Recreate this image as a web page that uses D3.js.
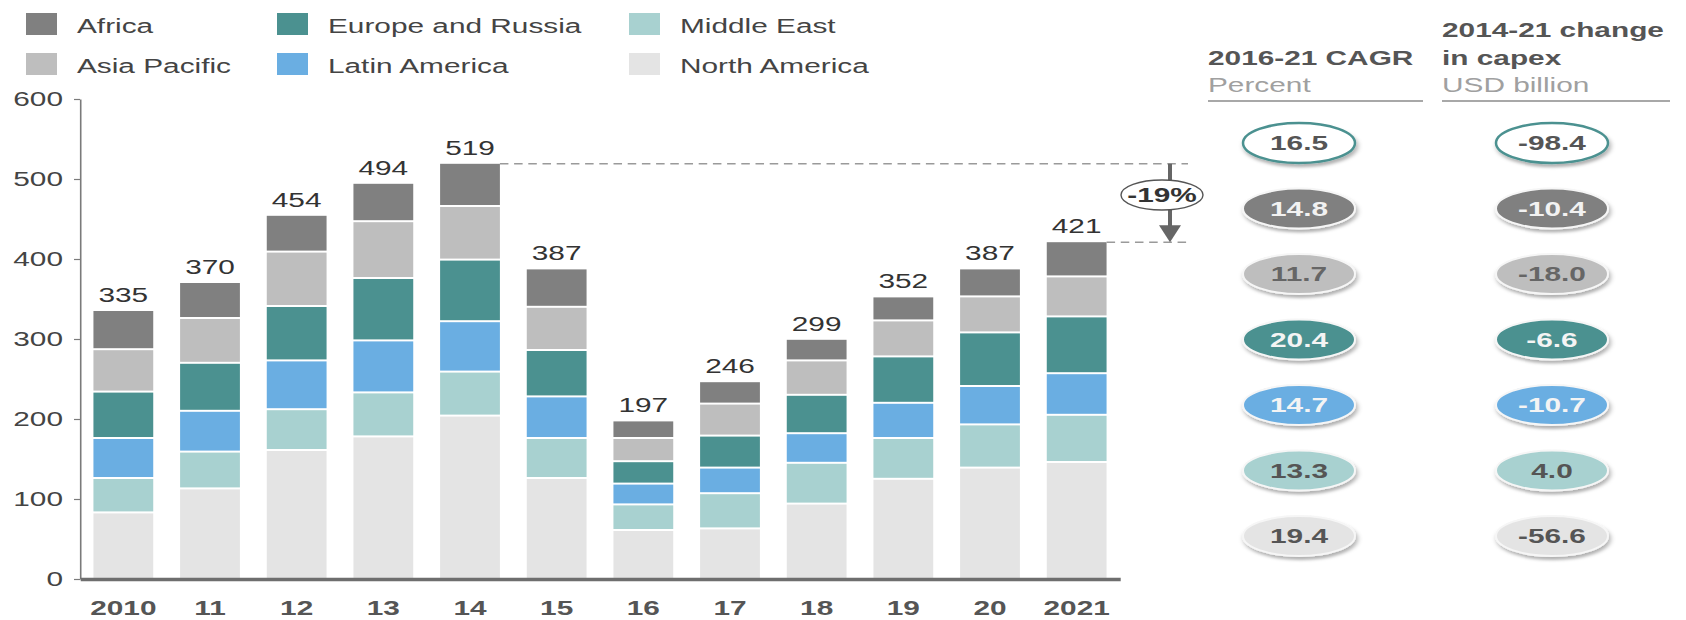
<!DOCTYPE html>
<html>
<head>
<meta charset="utf-8">
<script src="https://cdn.jsdelivr.net/npm/d3@7"></script>
<style>
  html, body { margin: 0; padding: 0; background: #fff; }
  svg { display: block; }
  text { font-family: "Liberation Sans", Arial, sans-serif; }
</style>
</head>
<body>
<svg id="chart"></svg>
<script>
// Capex by region, USD billion
const years = ["2010", "11", "12", "13", "14", "15", "16", "17", "18", "19", "20", "2021"];
const northAmerica = [82, 112, 160, 177, 203, 125, 60, 62, 93, 124, 138, 145];
const middleEast   = [43, 46, 51, 55, 55, 50, 32, 44, 51, 51, 54, 59];
const latinAmerica = [50, 51, 61, 65, 63, 52, 26, 32, 37, 44, 48, 52];
const europeRussia = [58, 60, 68, 78, 77, 58, 28, 40, 48, 58, 67, 71];
const asiaPacific  = [53, 56, 68, 71, 67, 54, 29, 40, 43, 45, 45, 50];
const africa       = [49, 45, 46, 48, 54, 48, 22, 28, 27, 30, 35, 44];
const totals       = [335, 370, 454, 494, 519, 387, 197, 246, 299, 352, 387, 421];

const yTicks = [0, 100, 200, 300, 400, 500, 600];

// Side table: rows are Total, then each region in legend order
const tableRows   = ["Total", "Africa", "Asia Pacific", "Europe and Russia", "Latin America", "Middle East", "North America"];
const cagr1621    = [16.5, 14.8, 11.7, 20.4, 14.7, 13.3, 19.4];
const change1421  = [-98.4, -10.4, -18.0, -6.6, -10.7, 4.0, -56.6];

const legendOrder = ["Africa", "Asia Pacific", "Europe and Russia", "Latin America", "Middle East", "North America"];
const stackOrder  = ["North America", "Middle East", "Latin America", "Europe and Russia", "Asia Pacific", "Africa"];

const colors = {
  "Africa": "#808080",
  "Asia Pacific": "#bebebe",
  "Europe and Russia": "#4b9190",
  "Latin America": "#6aaee2",
  "Middle East": "#a8d1d0",
  "North America": "#e4e4e4"
};
const pillText = {
  "Total": "#555", "Africa": "#f2f2f2", "Asia Pacific": "#666",
  "Europe and Russia": "#f4f4f4", "Latin America": "#f4f4f4",
  "Middle East": "#555", "North America": "#555"
};

const seriesByName = {
  "North America": northAmerica, "Middle East": middleEast, "Latin America": latinAmerica,
  "Europe and Russia": europeRussia, "Asia Pacific": asiaPacific, "Africa": africa
};

// The drawing is laid out in a narrower space and stretched horizontally to the page width
const S = 1.42;
const PW = 1686, PH = 620;
const px = v => v / S;

const svg = d3.select("#chart")
  .attr("width", PW).attr("height", PH)
  .attr("viewBox", `0 0 ${PW / S} ${PH}`)
  .attr("preserveAspectRatio", "none");

const defs = svg.append("defs");
defs.append("filter").attr("id", "pillShadow")
  .attr("x", "-30%").attr("y", "-40%").attr("width", "170%").attr("height", "190%")
  .append("feDropShadow")
  .attr("dx", 1.2).attr("dy", 3).attr("stdDeviation", 1.8)
  .attr("flood-color", "#000").attr("flood-opacity", 0.3);

// Scales
const x = d3.scaleBand().domain(years).range([px(80), px(1120)]).paddingInner(0.31).paddingOuter(0.155);
const y = d3.scaleLinear().domain([0, 600]).range([579, 99]);

// Stacked data
const table = years.map((yr, i) => {
  const row = { year: yr };
  stackOrder.forEach(k => { row[k] = seriesByName[k][i]; });
  return row;
});
const stacked = d3.stack().keys(stackOrder)(table);

const bars = svg.append("g");
stacked.forEach((layer, li) => {
  bars.append("g").attr("fill", colors[layer.key])
    .selectAll("rect").data(layer).join("rect")
    .attr("x", d => x(d.data.year))
    .attr("width", x.bandwidth())
    .attr("y", d => y(d[1]))
    .attr("height", d => Math.max(0, y(d[0]) - y(d[1]) - (li > 0 ? 2 : 0)));
});

// Totals above bars
svg.append("g").selectAll("text").data(years).join("text")
  .attr("x", (d) => x(d) + x.bandwidth() / 2)
  .attr("y", (d, i) => y(totals[i]) - 9)
  .attr("text-anchor", "middle")
  .attr("font-size", 21)
  .attr("fill", "#333")
  .text((d, i) => totals[i]);

// Y axis
const yAxis = svg.append("g").attr("transform", `translate(${px(80)},0)`)
  .call(d3.axisLeft(y).tickValues(yTicks).tickSize(px(6)).tickSizeOuter(0).tickPadding(px(11)));
yAxis.select(".domain").attr("stroke", "#7a7a7a").attr("stroke-width", 1.6).attr("vector-effect", "non-scaling-stroke");
yAxis.selectAll(".tick line").attr("stroke", "#7a7a7a").attr("stroke-width", 1.2).attr("vector-effect", "non-scaling-stroke");
yAxis.selectAll(".tick text").attr("font-size", 21).attr("fill", "#444")
  .attr("font-family", "'Liberation Sans', Arial, sans-serif");

// X axis
const xAxis = svg.append("g").attr("transform", `translate(0,${y(0)})`)
  .call(d3.axisBottom(x).tickSize(0).tickSizeOuter(0).tickPadding(21));
xAxis.select(".domain").attr("stroke", "#6e6e6e").attr("stroke-width", 3.5).attr("vector-effect", "non-scaling-stroke");
xAxis.selectAll(".tick text").attr("font-size", 21).attr("font-weight", "bold").attr("fill", "#555")
  .attr("font-family", "'Liberation Sans', Arial, sans-serif");

// Legend: three columns of two
const legendCols = [26, 277, 629];
const legendRows = [13, 53];
const legend = svg.append("g");
legendOrder.forEach((name, i) => {
  const cx = px(legendCols[Math.floor(i / 2)]);
  const cy = legendRows[i % 2];
  legend.append("rect").attr("x", cx).attr("y", cy).attr("width", px(31)).attr("height", 22).attr("fill", colors[name]);
  legend.append("text").attr("x", cx + px(51)).attr("y", cy + 20)
    .attr("font-size", 21).attr("fill", "#444").text(name);
});

// Change from 2014 peak to 2021
const iPeak = years.indexOf("14"), iLast = years.length - 1;
const pct = Math.round((totals[iLast] - totals[iPeak]) / totals[iPeak] * 100);
const guideEnd = px(1188);
const ann = svg.append("g");
ann.append("line")
  .attr("x1", x(years[iPeak]) + x.bandwidth()).attr("x2", guideEnd)
  .attr("y1", y(totals[iPeak])).attr("y2", y(totals[iPeak]))
  .attr("stroke", "#9a9a9a").attr("stroke-width", 1.5).attr("stroke-dasharray", "6 4");
ann.append("line")
  .attr("x1", x(years[iLast]) + x.bandwidth()).attr("x2", guideEnd)
  .attr("y1", y(totals[iLast])).attr("y2", y(totals[iLast]))
  .attr("stroke", "#9a9a9a").attr("stroke-width", 1.5).attr("stroke-dasharray", "6 4");
const ax = px(1170);
ann.append("line").attr("x1", ax).attr("x2", ax)
  .attr("y1", y(totals[iPeak])).attr("y2", y(totals[iLast]) - 15)
  .attr("stroke", "#666").attr("stroke-width", px(4));
ann.append("path")
  .attr("d", `M${ax - px(11)},${y(totals[iLast]) - 17} L${ax + px(11)},${y(totals[iLast]) - 17} L${ax},${y(totals[iLast])} Z`)
  .attr("fill", "#666");
ann.append("ellipse").attr("cx", px(1162)).attr("cy", 195).attr("rx", px(41)).attr("ry", 15)
  .attr("fill", "#fff").attr("stroke", "#555").attr("stroke-width", 1.4).attr("vector-effect", "non-scaling-stroke");
ann.append("text").attr("x", px(1162)).attr("y", 202).attr("text-anchor", "middle")
  .attr("font-size", 21).attr("font-weight", "bold").attr("fill", "#333")
  .text(`${pct}%`);

// Side table headers
const side = svg.append("g");
const colX = [px(1208), px(1442)];
const colEnd = [px(1423), px(1670)];
side.append("text").attr("x", colX[0]).attr("y", 65).attr("font-size", 21).attr("font-weight", "bold").attr("fill", "#555").text("2016-21 CAGR");
side.append("text").attr("x", colX[0]).attr("y", 92).attr("font-size", 21).attr("fill", "#a0a0a0").text("Percent");
side.append("text").attr("x", colX[1]).attr("y", 37).attr("font-size", 21).attr("font-weight", "bold").attr("fill", "#555").text("2014-21 change");
side.append("text").attr("x", colX[1]).attr("y", 65).attr("font-size", 21).attr("font-weight", "bold").attr("fill", "#555").text("in capex");
side.append("text").attr("x", colX[1]).attr("y", 92).attr("font-size", 21).attr("fill", "#a0a0a0").text("USD billion");
[0, 1].forEach(c => {
  side.append("line").attr("x1", colX[c]).attr("x2", colEnd[c]).attr("y1", 101).attr("y2", 101)
    .attr("stroke", "#a8a8a8").attr("stroke-width", 2);
});

// Pills
const rowY = d3.scalePoint().domain(tableRows).range([143, 536]);
const pillCols = [
  { cx: px(1299), values: cagr1621 },
  { cx: px(1552), values: change1421 }
];
pillCols.forEach(col => {
  const g = side.append("g");
  tableRows.forEach((name, i) => {
    const isTotal = name === "Total";
    g.append("ellipse")
      .attr("cx", col.cx).attr("cy", rowY(name))
      .attr("rx", px(56)).attr("ry", 20)
      .attr("fill", isTotal ? "#fff" : colors[name])
      .attr("stroke", isTotal ? "#4b9190" : "#f6f6f6")
      .attr("stroke-width", isTotal ? 2.5 : 2)
      .attr("vector-effect", "non-scaling-stroke")
      .attr("filter", "url(#pillShadow)");
    g.append("text")
      .attr("x", col.cx).attr("y", rowY(name) + 7.5)
      .attr("text-anchor", "middle")
      .attr("font-size", 21).attr("font-weight", "bold")
      .attr("fill", pillText[name])
      .text(col.values[i].toFixed(1));
  });
});
</script>
</body>
</html>
